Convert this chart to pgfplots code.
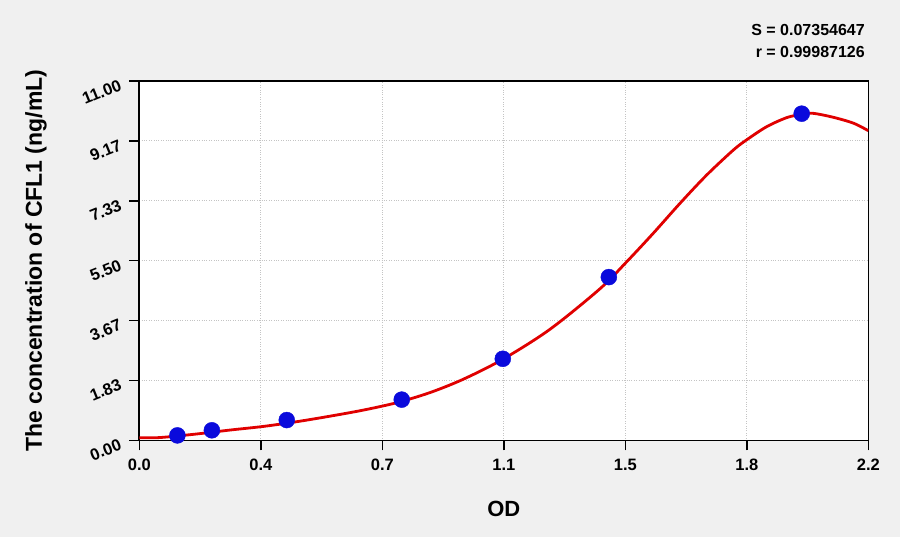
\documentclass[border=0pt]{standalone}
\usepackage{fontspec}
\setmainfont{Liberation Sans}
\usepackage{pgfplots}
\pgfplotsset{compat=1.18}
\definecolor{bg}{HTML}{F0F0F0}
\definecolor{gridc}{HTML}{C4C4C4}
\definecolor{fitred}{HTML}{E00000}
\definecolor{ptblue}{HTML}{0A0ADC}

\begin{document}
\begin{tikzpicture}
\fill[bg] (-139.3pt,-96.5pt) rectangle (760.7pt,440.5pt);
\useasboundingbox (-139.3pt,-96.5pt) rectangle (760.7pt,440.5pt);
\begin{axis}[
  at={(0,0)}, anchor=south west,
  scale only axis,
  width=729pt, height=359.5pt,
  xmin=0, xmax=2.2, ymin=0, ymax=11,
  axis background/.style={fill=white},
  axis line style={line width=1.6pt, black},
  xtick={0,0.36667,0.73333,1.1,1.46667,1.83333,2.2},
  xticklabels={0.0,0.4,0.7,1.1,1.5,1.8,2.2},
  ytick={0,1.83333,3.66667,5.5,7.33333,9.16667,11},
  yticklabels={0.00,1.83,3.67,5.50,7.33,9.17,11.00},
  minor tick num=3,
  tick align=outside,
  xtick pos=bottom, ytick pos=left,
  major tick length=10pt, minor tick length=7pt,
  tick style={line width=1.4pt, black},
  grid=major,
  major grid style={dotted, gridc, line width=0.9pt},
  x tick label style={font=\fontsize{16.5}{20}\selectfont\bfseries, yshift=-5pt},
  y tick label style={font=\fontsize{16.5}{20}\selectfont\bfseries, rotate=22, anchor=east, xshift=-6pt},
  xlabel={OD},
  ylabel={The concentration of CFL1 (ng/mL)},
  xlabel style={font=\fontsize{22}{26}\selectfont\bfseries, at={(axis description cs:0.5,-0.191)}, anchor=center},
  ylabel style={font=\fontsize{23}{27}\selectfont\bfseries, at={(axis description cs:-0.1417,0.5)}, anchor=center},
  clip mode=individual,
]
\addplot[fitred, line width=2.8pt, smooth] coordinates {
  (0.000,0.086) (0.062,0.090) (0.173,0.199) (0.274,0.320) (0.374,0.430)
  (0.475,0.575) (0.576,0.745) (0.676,0.930) (0.777,1.157) (0.877,1.465)
  (0.977,1.871) (1.097,2.485) (1.239,3.400) (1.390,4.640) (1.471,5.470)
  (1.551,6.340) (1.632,7.260) (1.712,8.120) (1.793,8.890) (1.833,9.200)
  (1.893,9.600) (1.954,9.880) (1.999,9.980) (2.034,10.010) (2.094,9.890)
  (2.155,9.710) (2.200,9.480)
};
\addplot[only marks, mark=*, mark size=8pt, ptblue, mark options={draw=ptblue, fill=ptblue}] coordinates {
  (0.115,0.156) (0.219,0.312) (0.445,0.625) (0.792,1.25)
  (1.097,2.5) (1.417,5.0) (1.999,10.0)
};
\node[anchor=east, font=\fontsize{16}{20}\selectfont\bfseries] at (axis description cs:1,1) [yshift=51pt] {S = 0.07354647};
\node[anchor=east, font=\fontsize{16}{20}\selectfont\bfseries] at (axis description cs:1,1) [yshift=29pt] {r = 0.99987126};
\end{axis}
\end{tikzpicture}
\end{document}
